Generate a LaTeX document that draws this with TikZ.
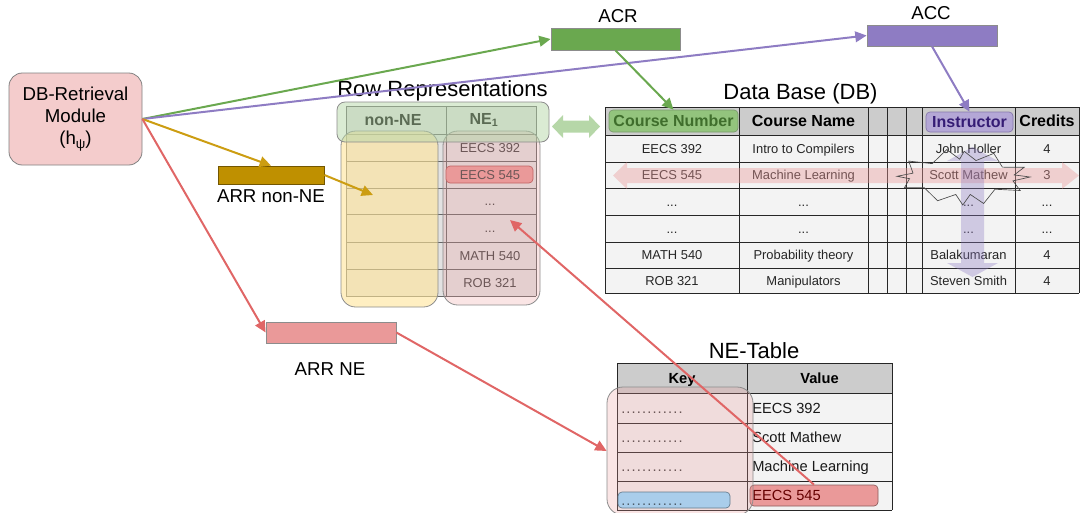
\documentclass[tikz,border=0pt]{standalone}
\usepackage{fontspec}
\setmainfont{Liberation Sans}
\usetikzlibrary{arrows.meta,calc}
\newlength\pxu \setlength\pxu{0.75pt}
\newcommand\ellip{...}
\newcommand\kd{.\kern0.85pt}
\newcommand\kdots{\kd\kd\kd\kd\kd\kd\kd\kd\kd\kd\kd.}
\definecolor{modfill}{HTML}{F4CCCC}
\definecolor{gold}{HTML}{BF9000}
\definecolor{goldline}{HTML}{CC9D12}
\definecolor{redfill}{HTML}{EA9999}
\definecolor{redline}{HTML}{E06666}
\definecolor{grn}{HTML}{6AA84F}
\definecolor{grnlt}{HTML}{B6D7A8}
\definecolor{grnbadge}{HTML}{93C47D}
\definecolor{grntext}{HTML}{3F6E2C}
\definecolor{pur}{HTML}{8E7CC3}
\definecolor{purbadge}{HTML}{B4A7D6}
\definecolor{purtext}{HTML}{351C75}
\definecolor{yel}{HTML}{FFE599}
\definecolor{blu}{HTML}{A9CDEB}
\definecolor{hdr}{HTML}{CCCCCC}
\definecolor{bdy}{HTML}{F3F3F3}
\definecolor{rrcell}{HTML}{E2E2E2}
\begin{document}
\begin{tikzpicture}[x=0.75pt,y=-0.75pt,
  lbl/.style={font=\fontsize{14}{16}\selectfont, anchor=base, inner sep=0},
  ttl/.style={font=\fontsize{16.5}{19}\selectfont, anchor=base, inner sep=0},
  bar/.style={rectangle, inner sep=0, draw=black!45, line width=0.6pt},
  conn/.style={line width=1.5pt, -{Triangle[length=8.5pt,width=8pt]}},
  grid/.style={draw=black!85, line width=0.6pt},
  rrgrid/.style={draw=black!60, line width=0.5pt},
  dbh/.style={font=\bfseries\fontsize{12}{14}\selectfont, inner sep=0},
  dbt/.style={font=\fontsize{9.7}{11}\selectfont, text=black!85, inner sep=0, text height=7pt, text depth=0pt},
  rrt/.style={font=\fontsize{9.7}{11}\selectfont, text=black!75, inner sep=0, text height=7pt, text depth=0pt},
  net/.style={font=\fontsize{11}{13}\selectfont, inner sep=0, anchor=west, text height=8pt, text depth=0pt},
  neh/.style={font=\bfseries\fontsize{11}{13}\selectfont, inner sep=0, text height=8pt, text depth=0pt},
  ovl/.style={draw=black!45, line width=0.6pt, rounded corners=11pt},
]
\useasboundingbox (0,0) rectangle (1080,512);

% ---------- Module ----------
\node[rectangle, rounded corners=10pt, fill=modfill, draw=black!50, line width=0.6pt,
  minimum width=133\pxu, minimum height=92\pxu, align=center,
  font=\fontsize{14}{16.5}\selectfont] (mod) at (75.5,119)
  {DB-Retrieval\\Module\\(h\raisebox{-0.45ex}{\fontsize{10}{10}\selectfont ψ})};

% ---------- bars and labels ----------
\node[bar, fill=gold, draw=gold!60!black, minimum width=106\pxu, minimum height=18\pxu] (arrN) at (271,175) {};
\node[lbl] (arrNl) at (271,202) {ARR non-NE};
\node[bar, fill=redfill, draw=black!45, minimum width=130\pxu, minimum height=21\pxu] (arrE) at (331,332.5) {};
\node[lbl] (arrEl) at (330,375) {ARR NE};
\node[bar, fill=grn, minimum width=129\pxu, minimum height=22\pxu] (acr) at (615.5,39) {};
\node[lbl] (acrl) at (618,22) {ACR};
\node[bar, fill=pur, minimum width=130\pxu, minimum height=21\pxu] (acc) at (932,35.5) {};
\node[lbl] (accl) at (931,19.5) {ACC};

% ---------- titles ----------
\node[ttl] (rrt) at (442.5,96) {Row Representations};
\node[ttl] (dbt) at (800.5,99) {Data Base (DB)};
\node[ttl] (net) at (754,358) {NE-Table};

% ---------- Data base table ----------
\fill[hdr] (605,107) rectangle (1079,135);
\fill[bdy] (605,135) rectangle (1079,293);
\foreach \x in {605,739,868,887,906,922,1015,1079} \draw[grid] (\x,107) -- (\x,293);
\foreach \y in {107,135,162,188,215,242,268,293} \draw[grid] (605,\y) -- (1079,\y);

\node[rectangle, rounded corners=3pt, fill=grnbadge, draw=grntext!70, line width=0.5pt,
  minimum width=129\pxu, minimum height=22\pxu, dbh, text=grntext] (cn) at (673.5,121) {Course Number};
\node[dbh] (cname) at (803.5,121) {Course Name};
\node[rectangle, rounded corners=3pt, fill=purbadge, draw=purtext!60, line width=0.5pt,
  minimum width=87\pxu, minimum height=20\pxu, dbh, text=purtext] (instr) at (969.5,122) {Instructor};
\node[dbh] (cred) at (1047,121) {Credits};

\foreach \y/\a/\b/\c/\d [count=\i] in {148.5/EECS 392/Intro to Compilers/John Holler/4,
  175/EECS 545/Machine Learning/Scott Mathew/3,
  201.5/\ellip/\ellip/\ellip/\ellip,
  228.5/\ellip/\ellip/\ellip/\ellip,
  255/MATH 540/Probability theory/Balakumaran/4,
  280.5/ROB 321/Manipulators/Steven Smith/4}{
  \node[dbt] (db\i a) at (672,\y) {\a};
  \node[dbt] (db\i b) at (803.5,\y) {\b};
  \node[dbt] (db\i c) at (968.5,\y) {\c};
  \node[dbt] (db\i d) at (1047,\y) {\d};
}

% highlight arrows in DB
\fill[redfill, opacity=0.4] (613,175.5) -- (627,162) -- (627,168) -- (1062,168) -- (1062,162) -- (1079,175.5)
  -- (1062,189) -- (1062,183) -- (627,183) -- (627,189) -- cycle;
\fill[pur, opacity=0.35] (972.5,147) -- (998,161) -- (984,161) -- (984,263) -- (998,263) -- (972.5,277)
  -- (947,263) -- (961,263) -- (961,161) -- (947,161) -- cycle;
\begin{scope}[shift={(963,177)}]
\draw[black!70, line width=0.5pt] (0:67 and 22) -- (16:52 and 14) -- (30:66 and 27) -- (46:46 and 17)
  -- (62:44 and 30) -- (76:30 and 18) -- (92:6 and 28) -- (104:30 and 18) -- (122:48 and 28)
  -- (138:52 and 16) -- (156:64 and 26) -- (172:54 and 12) -- (182:66 and 20) -- (196:52 and 14)
  -- (212:64 and 30) -- (228:46 and 18) -- (246:40 and 30) -- (262:24 and 18) -- (278:8 and 26)
  -- (294:32 and 18) -- (308:50 and 30) -- (322:50 and 16) -- (338:66 and 26) -- (350:52 and 12) -- cycle;
\end{scope}

% ---------- Row representations table ----------
\fill[rrcell] (346,106) rectangle (536,296);
\foreach \x in {346,446,536} \draw[rrgrid] (\x,106) -- (\x,296);
\foreach \y in {106,134,161,188,214,242,269,296} \draw[rrgrid] (346,\y) -- (536,\y);
\node[dbh] (hnon) at (393,120) {non-NE};
\node[dbh] (hne) at (484,120) {NE\textsubscript{1}};
\node[rectangle, rounded corners=3pt, fill=redfill, draw=redline!80!black, line width=0.5pt,
  minimum width=87\pxu, minimum height=17\pxu] (rrbadge) at (489.5,174.5) {};
\foreach \y/\t [count=\i] in {147.5/EECS 392,174.5/EECS 545,201/\ellip,228/\ellip,255.5/MATH 540,282.5/ROB 321}{
  \node[rrt] (rr\i) at (490,\y) {\t};
}
\node[ovl, fill=yel, fill opacity=0.6, minimum width=97\pxu, minimum height=176\pxu] (yov) at (389.5,219) {};
\node[ovl, fill=redfill, fill opacity=0.26, minimum width=97\pxu, minimum height=174\pxu] (pov) at (491.5,218) {};
\node[ovl, rounded corners=6pt, fill=grnlt, fill opacity=0.5, minimum width=212\pxu, minimum height=40\pxu] (gov) at (443,122) {};
\coordinate (nonNEpt) at (373,195);
\coordinate (nept) at (510,220);

% green double arrow
\fill[grnlt] (552,126.5) -- (563,115) -- (563,120.5) -- (589,120.5) -- (589,115) -- (600,126.5)
  -- (589,138) -- (589,132.5) -- (563,132.5) -- (563,138) -- cycle;

% ---------- NE table ----------
\fill[hdr] (617,363) rectangle (892,393);
\fill[bdy] (617,393) rectangle (892,510);
\foreach \x in {617,747,892} \draw[grid] (\x,363) -- (\x,510);
\foreach \y in {363,393,423,452,481,510} \draw[grid] (617,\y) -- (892,\y);
\node[neh] (kh) at (682,378) {Key};
\node[neh] (vh) at (819.5,378) {Value};
\node[rectangle, rounded corners=3pt, fill=redfill, draw=redfill!60!black, line width=0.5pt,
  minimum width=128\pxu, minimum height=21\pxu] (vbadge) at (814,495.5) {};
\foreach \y/\t [count=\i] in {408/EECS 392,437.5/Scott Mathew,466.5/Machine Learning}{
  \node[net, text=black!90] (v\i) at (752,\y) {\t};
  \node[net, text=black!75] (k\i) at (621,\y) {\kdots};
}
\node[net, text=red!40!black] (v4) at (752,495.5) {EECS 545};
\node[ovl, fill=redfill, fill opacity=0.25, rounded corners=12pt, minimum width=146\pxu, minimum height=128\pxu] (keyov) at (680,451) {};
\node[rectangle, rounded corners=3pt, fill=blu, draw=blu!60!black, line width=0.5pt,
  minimum width=112\pxu, minimum height=16\pxu] (bluebadge) at (674,500) {};
\node[net, text=blu!45!black] (k4) at (621,500) {\kdots};

% ---------- connectors ----------
\draw[conn, grn] (mod.east) -- (acr.west);
\draw[conn, pur] (mod.east) -- (acc.west);
\draw[conn, goldline] (mod.east) -- (arrN.north);
\draw[conn, redline] (mod.east) -- (arrE.west);
\draw[conn, goldline] (arrN.east) -- (nonNEpt);
\draw[conn, redline] (arrE.east) -- (keyov.west);
\draw[conn, redline] (vbadge.north) -- (nept);
\draw[conn, grn] (acr.south) -- (cn.north);
\draw[conn, pur] (acc.south) -- (instr.north);
\end{tikzpicture}
\end{document}
